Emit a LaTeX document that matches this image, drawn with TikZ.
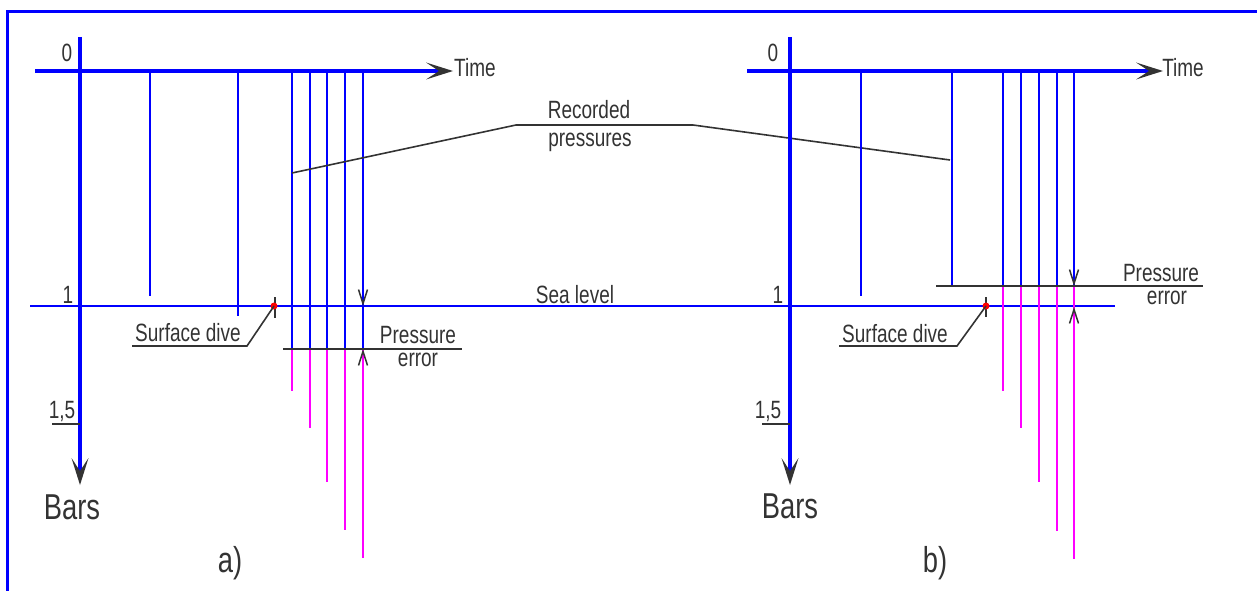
\documentclass[tikz,border=0pt]{standalone}
\usepackage{fontspec}
\setmainfont{Liberation Sans}[FakeStretch=0.76]
\usepackage{xcolor}
\usepackage{tikz}
\usetikzlibrary{arrows.meta}
\definecolor{axisblue}{RGB}{0,0,255}
\definecolor{readmag}{RGB}{255,0,255}
\definecolor{inkgray}{RGB}{51,51,51}

\begin{document}
\begin{tikzpicture}[x=1pt, y=-1pt, every node/.style={font=\fontsize{25}{27}\selectfont, text=inkgray, inner sep=0pt},
    axis/.style={axisblue, line width=4pt},
    rec/.style={axisblue, line width=2pt},
    err/.style={readmag, line width=2pt},
    leader/.style={inkgray, line width=1.6pt},
    big/.style={font=\fontsize{36}{38}\selectfont},
    axtip/.style={-{Stealth[length=27pt, width=17pt, inset=13pt, line width=0pt, color=inkgray]}},
    dimtip/.style={-{Straight Barb[length=14pt, width=9pt, color=inkgray, line width=1.5pt]}}]
        \useasboundingbox (0,0) rectangle (1257,591);
        \draw[axisblue, line width=3pt] (7,591) -- (7,12) -- (1257,12);
        % panel a
        \draw[axis, axtip] (35,71) -- (453,71);
        \draw[axis, axtip] (80,37) -- (80,485);
        \draw[rec] (150,71) -- (150,296);
        \draw[rec] (238,71) -- (238,316);
        \foreach \px/\py in {292/391, 310/428, 327/482, 345/530, 363/558} {
          \draw[rec] (\px,71) -- (\px,349);
          \draw[err] (\px,349) -- (\px,\py);
        }
        \draw[rec] (30,306) -- (1115,306);
        \draw[leader] (283,349) -- (462,349);
        \draw[rec, dimtip] (363,290) -- (363,306);
        \draw[err, dimtip] (363,365) -- (363,349);
        \node (zero-a) at (67,53) {0};
        \node (one-a) at (68,295) {1};
        \node (half-a) at (62,411) {1,5};
        \draw[leader] (52,424) -- (80,424);
        \node (time-a) at (475,68) {Time};
        \node[big] (bars-a) at (72,507) {Bars};
        \node[big] (lbl-a) at (230,563) {a)};
        \node (sea) at (575,295) {Sea level};
        \coordinate (dive-a) at (274,306);
        \draw[leader] (275,297) -- (275,318);
        \fill[red] (dive-a) circle (3.5);
        \node (sd-a) at (188,333) {Surface dive};
        \draw[leader] (dive-a) -- (247,346) -- (132,346);
        \node (pe-a) at (418,335) {Pressure};
        \node (er-a) at (418,360) {error};
        % recorded pressures callout
        \node (rp1) at (589,110) {Recorded};
        \node (rp2) at (590,142) {pressures};
        \coordinate (rp-a) at (292,173);
        \coordinate (rp-b) at (950,160);
        \draw[leader] (rp-a) -- (516,125) -- (693,125) -- (rp-b);
        % panel b
        \draw[axis, axtip] (747,71) -- (1163,71);
        \draw[axis, axtip] (790,37) -- (790,485);
        \draw[rec] (861,71) -- (861,296);
        \draw[rec] (952,71) -- (952,286);
        \foreach \px/\py in {1003/391, 1021/428, 1039/482, 1057/531, 1074/559} {
          \draw[rec] (\px,71) -- (\px,286);
          \draw[err] (\px,286) -- (\px,\py);
        }
        \draw[leader] (936,286) -- (1203,286);
        \draw[rec, dimtip] (1074,270) -- (1074,286);
        \draw[err, dimtip] (1074,323) -- (1074,307);
        \node (zero-b) at (773,53) {0};
        \node (one-b) at (778,295) {1};
        \node (half-b) at (768,411) {1,5};
        \draw[leader] (762,424) -- (790,424);
        \node (time-b) at (1183,68) {Time};
        \node[big] (bars-b) at (790,506) {Bars};
        \node[big] (lbl-b) at (935,563) {b)};
        \coordinate (dive-b) at (986,306);
        \draw[leader] (986,297) -- (986,317);
        \fill[red] (dive-b) circle (3.5);
        \node (sd-b) at (895,334) {Surface dive};
        \draw[leader] (dive-b) -- (957,346) -- (839,346);
        \node (pe-b) at (1161,273) {Pressure};
        \node (er-b) at (1167,298) {error};
      \end{tikzpicture}
\end{document}
